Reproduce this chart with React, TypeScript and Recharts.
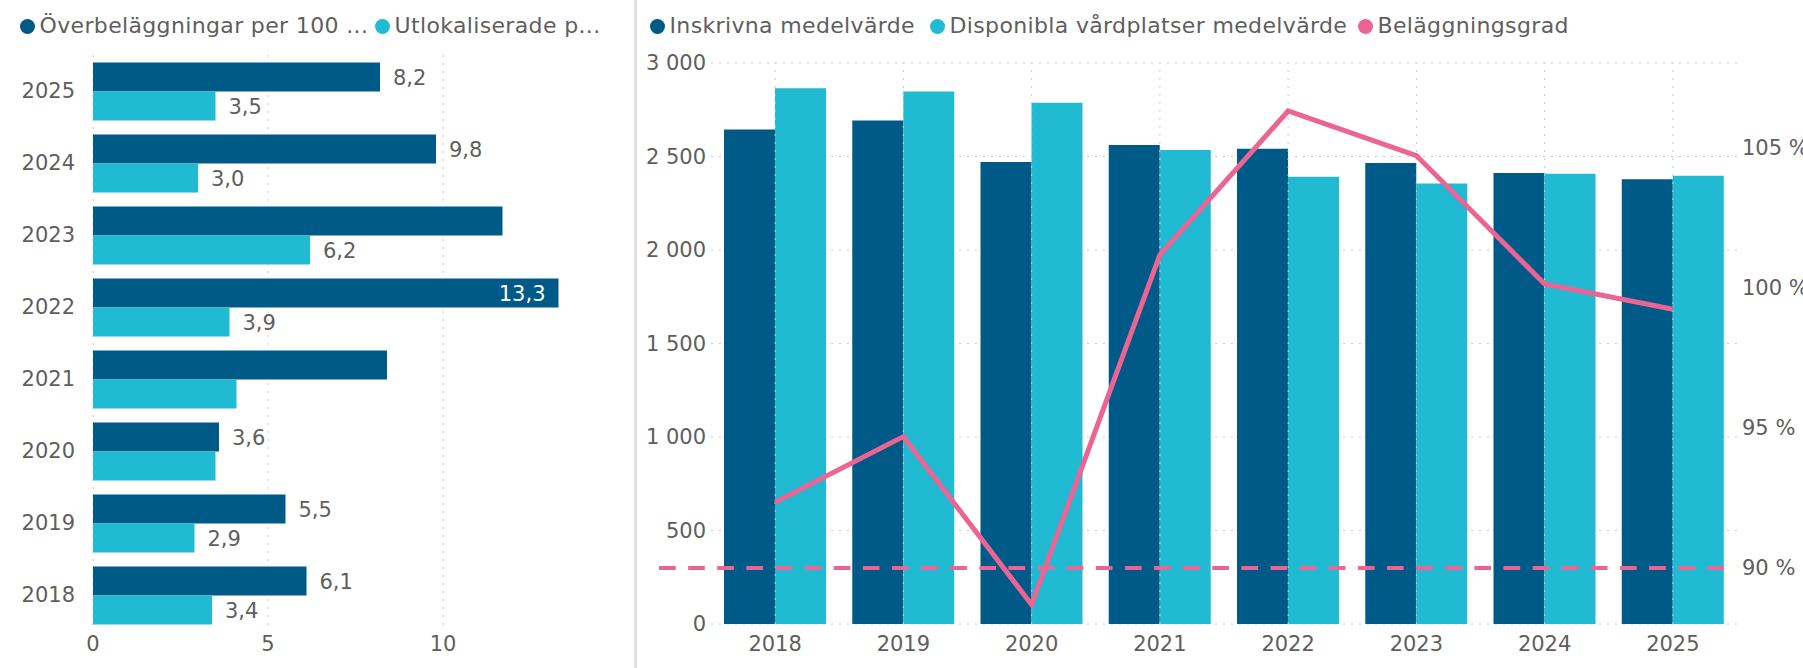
import {
  BarChart,
  Bar,
  XAxis,
  YAxis,
  CartesianGrid,
  LabelList,
  ComposedChart,
  Line,
  ReferenceLine,
} from 'recharts';

// years, oldest first
const years = ['2018', '2019', '2020', '2021', '2022', '2023', '2024', '2025'];

// left chart: per 100 vårdplatser
const overbelaggningar = [6.1, 5.5, 3.6, 8.4, 13.3, 11.7, 9.8, 8.2];
const utlokaliserade = [3.4, 2.9, 3.5, 4.1, 3.9, 6.2, 3.0, 3.5];
// labels that Power BI kept visible
const overLabelShown = [true, true, true, false, true, false, true, true];
const utloLabelShown = [true, true, false, false, true, true, true, true];
const perHundredTicks = [0, 5, 10];

// right chart
const inskrivna = [2645, 2693, 2471, 2561, 2542, 2465, 2412, 2378];
const disponibla = [2865, 2847, 2788, 2535, 2392, 2355, 2408, 2397];
const belaggningsgrad = [92.34, 94.68, 88.69, 101.16, 106.29, 104.7, 100.12, 99.22];
const countTicks = [0, 500, 1000, 1500, 2000, 2500, 3000];
const pctTicks = [90, 95, 100, 105];
const malBelaggning = 90;

const DARK = '#005A87';
const CYAN = '#20BBD3';
const PINK = '#EB6493';
const TEXT = '#605E5C';
const GRID = '#C8C8C8';
const FONT = "'DejaVu Sans', sans-serif";
const FS = 21;

const LEFT_PLOT_RIGHT = 583;

const leftData = years
  .map((year, i) => ({
    year,
    over: overbelaggningar[i],
    utlo: utlokaliserade[i],
    overShow: overLabelShown[i],
    utloShow: utloLabelShown[i],
  }))
  .reverse();

const rightData = years.map((year, i) => ({
  year,
  inskrivna: inskrivna[i],
  disponibla: disponibla[i],
  grad: belaggningsgrad[i],
}));

const fmtDec = (v: number) => v.toFixed(1).replace('.', ',');
const fmtCount = (v: number) => String(v).replace(/\B(?=(\d{3})+(?!\d))/g, ' ');

const barLabel = (flag: 'overShow' | 'utloShow') => (props: any) => {
  const vb = props.viewBox ?? props;
  const x = vb.x ?? props.x;
  const y = vb.y ?? props.y;
  const width = vb.width ?? props.width;
  const height = vb.height ?? props.height;
  const row = leftData[props.index];
  if (!row || !row[flag]) return null;
  const text = fmtDec(Number(props.value));
  const end = x + width;
  const inside = end + 13 + text.length * 12.5 > LEFT_PLOT_RIGHT;
  return (
    <text
      x={inside ? end - 13 : end + 13}
      y={y + height / 2}
      dy="0.36em"
      textAnchor={inside ? 'end' : 'start'}
      fontSize={FS}
      fontFamily={FONT}
      fill={inside ? '#FFFFFF' : TEXT}
    >
      {text}
    </text>
  );
};

// the target line runs a bit past the plot on the left, like in Power BI
const MalLine = (p: any) => {
  const left = Math.min(p.x1, p.x2);
  const right = Math.max(p.x1, p.x2);
  return (
    <line
      x1={left - 52}
      y1={p.y1}
      x2={right - 13}
      y2={p.y2}
      stroke={PINK}
      strokeWidth={4}
      strokeDasharray="16.7 12.42"
    />
  );
};

function LegendItem({ left, color, label }: { left: number; color: string; label: string }) {
  return (
    <div
      style={{
        position: 'absolute',
        left,
        top: 12,
        display: 'flex',
        alignItems: 'center',
        whiteSpace: 'nowrap',
        fontSize: 22,
        letterSpacing: 0.35,
        color: TEXT,
        fontFamily: FONT,
        lineHeight: '28px',
      }}
    >
      <span
        style={{
          width: 15,
          height: 15,
          borderRadius: '50%',
          background: color,
          display: 'inline-block',
          marginRight: 5,
        }}
      />
      <span>{label}</span>
    </div>
  );
}

const tickStyle = { fill: TEXT, fontSize: FS, fontFamily: FONT };

export default function App() {
  return (
    <div
      style={{
        position: 'absolute',
        left: 0,
        top: 0,
        width: 1803,
        height: 668,
        background: '#fff',
        overflow: 'hidden',
        fontFamily: FONT,
      }}
    >
      <LegendItem left={19.5} color={DARK} label="Överbeläggningar per 100 ..." />
      <LegendItem left={374.5} color={CYAN} label="Utlokaliserade p..." />
      <LegendItem left={649.5} color={DARK} label="Inskrivna medelvärde" />
      <LegendItem left={929.5} color={CYAN} label="Disponibla vårdplatser medelvärde" />
      <LegendItem left={1357.5} color={PINK} label="Beläggningsgrad" />

      <div style={{ position: 'absolute', left: 634, top: 0, width: 3, height: 668, background: '#E1E1E1' }} />

      <div style={{ position: 'absolute', left: 0, top: 0 }}>
        <BarChart
          width={620}
          height={668}
          layout="vertical"
          data={leftData}
          margin={{ top: 55, right: 37, bottom: 0, left: 0 }}
          barCategoryGap={7.5}
          barGap={0}
        >
          <CartesianGrid horizontal={false} syncWithTicks stroke={GRID} strokeDasharray="2 6" />
          <XAxis
            type="number"
            domain={[0, 14]}
            ticks={perHundredTicks}
            axisLine={false}
            tickLine={false}
            tickSize={0}
            tickMargin={5}
            height={37}
            tick={tickStyle}
          />
          <YAxis
            type="category"
            dataKey="year"
            axisLine={false}
            tickLine={false}
            tickSize={0}
            tickMargin={18}
            width={93}
            tick={tickStyle}
          />
          <Bar dataKey="over" fill={DARK} isAnimationActive={false}>
            <LabelList dataKey="over" content={barLabel('overShow')} />
          </Bar>
          <Bar dataKey="utlo" fill={CYAN} isAnimationActive={false}>
            <LabelList dataKey="utlo" content={barLabel('utloShow')} />
          </Bar>
        </BarChart>
      </div>

      <div style={{ position: 'absolute', left: 640, top: 0 }}>
        <ComposedChart
          width={1163}
          height={668}
          data={rightData}
          margin={{ top: 63, right: 0, bottom: 0, left: 0 }}
          barCategoryGap={13}
          barGap={0}
        >
          <CartesianGrid yAxisId="left" vertical={false} stroke={GRID} strokeDasharray="2 6" />
          <XAxis
            dataKey="year"
            axisLine={false}
            tickLine={false}
            tickSize={0}
            tickMargin={12}
            height={44}
            tick={tickStyle}
          />
          <YAxis
            yAxisId="left"
            domain={[0, 3000]}
            ticks={countTicks}
            tickFormatter={fmtCount}
            axisLine={false}
            tickLine={false}
            tickSize={0}
            tickMargin={5}
            width={71}
            tick={tickStyle}
          />
          <YAxis
            yAxisId="right"
            orientation="right"
            domain={[88, 108]}
            ticks={pctTicks}
            tickFormatter={(v: number) => `${v} %`}
            axisLine={false}
            tickLine={false}
            tickSize={0}
            tickMargin={5}
            width={66}
            tick={tickStyle}
          />
          {years.map((yr) => (
            <ReferenceLine key={yr} x={yr} yAxisId="left" stroke={GRID} strokeDasharray="2 6" />
          ))}
          <Bar yAxisId="left" dataKey="inskrivna" fill={DARK} isAnimationActive={false} />
          <Bar yAxisId="left" dataKey="disponibla" fill={CYAN} isAnimationActive={false} />
          <ReferenceLine yAxisId="right" y={malBelaggning} shape={MalLine} />
          <Line
            yAxisId="right"
            type="linear"
            dataKey="grad"
            stroke={PINK}
            strokeWidth={5}
            dot={false}
            activeDot={false}
            isAnimationActive={false}
          />
        </ComposedChart>
      </div>
    </div>
  );
}
